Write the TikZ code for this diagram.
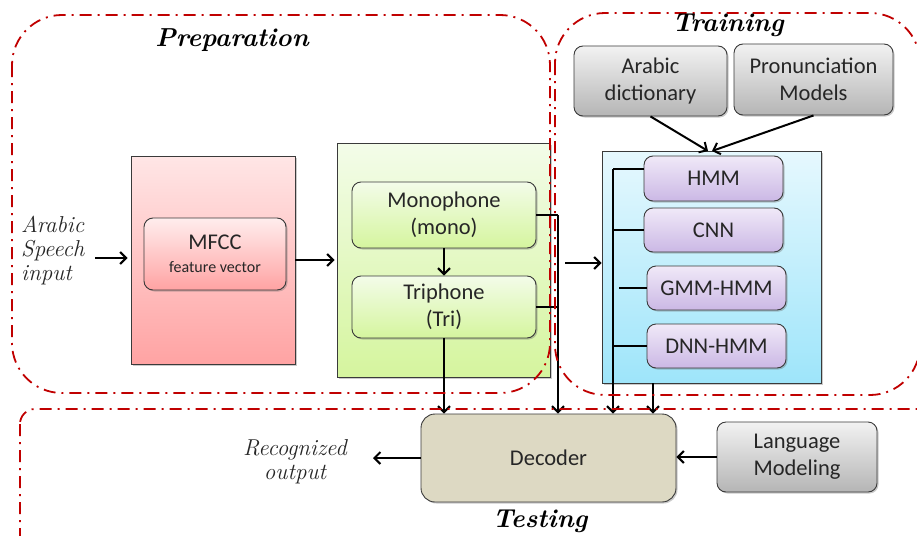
\documentclass[tikz,border=0pt]{standalone}
\usepackage{fontspec}
\newfontfamily\boxfont{Carlito}
\usetikzlibrary{arrows.meta,shadows}

\definecolor{regred}{HTML}{C00000}
\definecolor{edge}{HTML}{3A3A3A}
\definecolor{txt}{HTML}{262626}
\definecolor{pinktop}{HTML}{FFE6E6}
\definecolor{pinkbot}{HTML}{FFA3A3}
\definecolor{greentop}{HTML}{F3FCE9}
\definecolor{greenbot}{HTML}{D5F59E}
\definecolor{bluetop}{HTML}{E6F8FE}
\definecolor{bluebot}{HTML}{9EE5FA}
\definecolor{lavtop}{HTML}{F0E9F8}
\definecolor{lavbot}{HTML}{CBB8E5}
\definecolor{graytop}{HTML}{F2F2F2}
\definecolor{graybot}{HTML}{B5B5B5}
\definecolor{tan}{HTML}{DDD9C3}

\begin{document}
\begin{tikzpicture}[x=1pt,y=-1pt,
  region/.style={draw=regred, line width=1.8pt,
    dash pattern=on 12pt off 6pt on 2pt off 6pt, rounded corners=50pt},
  softshadow/.style={drop shadow={shadow xshift=1.5pt, shadow yshift=-1.5pt,
    opacity=0.35, fill=black!60}},
  panel/.style={draw=edge, line width=0.9pt, softshadow, inner sep=0pt},
  rbox/.style={draw=edge, line width=0.9pt, rounded corners=9pt, softshadow,
    font=\boxfont\fontsize{22.5}{27}\selectfont, text=txt, align=center, inner sep=0pt},
  link/.style={line width=2pt, black},
  arr/.style={link, -{Straight Barb[length=6pt,width=12pt]}},
  title/.style={font=\bfseries\itshape\fontsize{26}{30}\selectfont, text=black},
  hand/.style={font=\itshape\fontsize{23}{24}\selectfont, text=black!85}
]
\useasboundingbox (0,0) rectangle (917,535);

% Preparation stage
\node[panel, top color=pinktop, bottom color=pinkbot,
  minimum width=164pt, minimum height=208pt] (pink) at (213,260) {};
\node[rbox, top color=pinktop!70!white, bottom color=pinkbot,
  minimum width=142pt, minimum height=72pt] (mfcc) at (215,254)
  {MFCC\\[-4pt]{\fontsize{16}{19}\selectfont feature vector}};
\node[panel, top color=greentop, bottom color=greenbot,
  minimum width=213pt, minimum height=234pt] (green) at (443.5,260) {};
\node[rbox, top color=greentop, bottom color=greenbot,
  minimum width=184pt, minimum height=66pt] (mono) at (444,215)
  {Monophone\\(mono)};
\node[rbox, top color=greentop, bottom color=greenbot,
  minimum width=184pt, minimum height=62pt] (tri) at (444,307)
  {Triphone\\(Tri)};

% Training stage
\node[rbox, top color=graytop, bottom color=graybot,
  minimum width=153pt, minimum height=70pt] (dict) at (650.5,81)
  {Arabic\\dictionary};
\node[rbox, top color=graytop, bottom color=graybot,
  minimum width=159pt, minimum height=71pt] (pron) at (813.5,79.5)
  {Pronunciation\\Models};
\node[panel, top color=bluetop, bottom color=bluebot,
  minimum width=219pt, minimum height=232pt] (blue) at (711.5,267) {};
\node[rbox, top color=lavtop, bottom color=lavbot,
  minimum width=139pt, minimum height=45pt] (hmm) at (713.5,178.5) {HMM};
\node[rbox, top color=lavtop, bottom color=lavbot,
  minimum width=139pt, minimum height=44pt] (cnn) at (713.5,230) {CNN};
\node[rbox, top color=lavtop, bottom color=lavbot,
  minimum width=139pt, minimum height=44pt] (gmm) at (716.5,288) {GMM-HMM};
\node[rbox, top color=lavtop, bottom color=lavbot,
  minimum width=139pt, minimum height=44pt] (dnn) at (716.5,346) {DNN-HMM};

% Testing stage
\node[rbox, fill=tan, rounded corners=14pt,
  minimum width=255pt, minimum height=88pt] (dec) at (548.5,458) {Decoder};
\node[rbox, top color=graytop, bottom color=graybot,
  minimum width=160pt, minimum height=70pt] (lang) at (797,457)
  {Language\\Modeling};

% free labels
\node[hand, anchor=west, align=left, inner sep=0pt] (speech) at (21,251)
  {Arabic\\Speech\\input};
\node[hand, align=center, inner sep=0pt] (recog) at (295,462)
  {Recognized\\output};

% connectors
\coordinate (spin) at (95,258);
\draw[arr] (spin) -- ([xshift=-3pt]spin -| pink.west);
\draw[arr] (pink.east) -- ([xshift=-2pt]pink.east -| green.west);
\draw[arr] (mono.south) -- (tri.north);

\coordinate (j1) at (558,215);
\draw[link] (mono.east) -- (j1);
\draw[link] (tri.east) -- (tri.east -| j1);
\draw[arr] (j1) -- (j1 |- dec.north);
\draw[arr] (tri.south) -- (tri.south |- dec.north);

\coordinate (bi) at (565,263);
\draw[arr] (bi) -- (bi -| blue.west);

\coordinate (bin) at (710,151);
\draw[arr] (dict.south) -- ([xshift=-2pt]bin);
\draw[arr] (pron.south) -- ([xshift=2pt]bin);

\coordinate (bt) at (613,169);
\draw[link] (hmm.west |- bt) -- (bt);
\draw[arr] (bt) -- (bt |- dec.north);
\draw[link] (cnn.west) -- (cnn.west -| bt);
\draw[link] (gmm.west) -- ++(-28,0);
\draw[link] (dnn.west) -- (dnn.west -| bt);

\coordinate (bb) at (653,383);
\draw[arr] (bb) -- (bb |- dec.north);

\draw[arr] (lang.west) -- (lang.west -| dec.east);
\coordinate (rout) at (373,458);
\draw[arr] (dec.west) -- (rout);

% stage outlines
\draw[region] (12,15) rectangle (550,393);
\draw[region] (555,13) rectangle (920,395);
\draw[region, rounded corners=15pt] (20,409) rectangle (945,570);

% stage titles
\node[title] (tprep) at (232,40) {Preparation};
\node[title] (ttrain) at (728,25) {Training};
\node[title] (ttest) at (540,521) {Testing};
\end{tikzpicture}
\end{document}
